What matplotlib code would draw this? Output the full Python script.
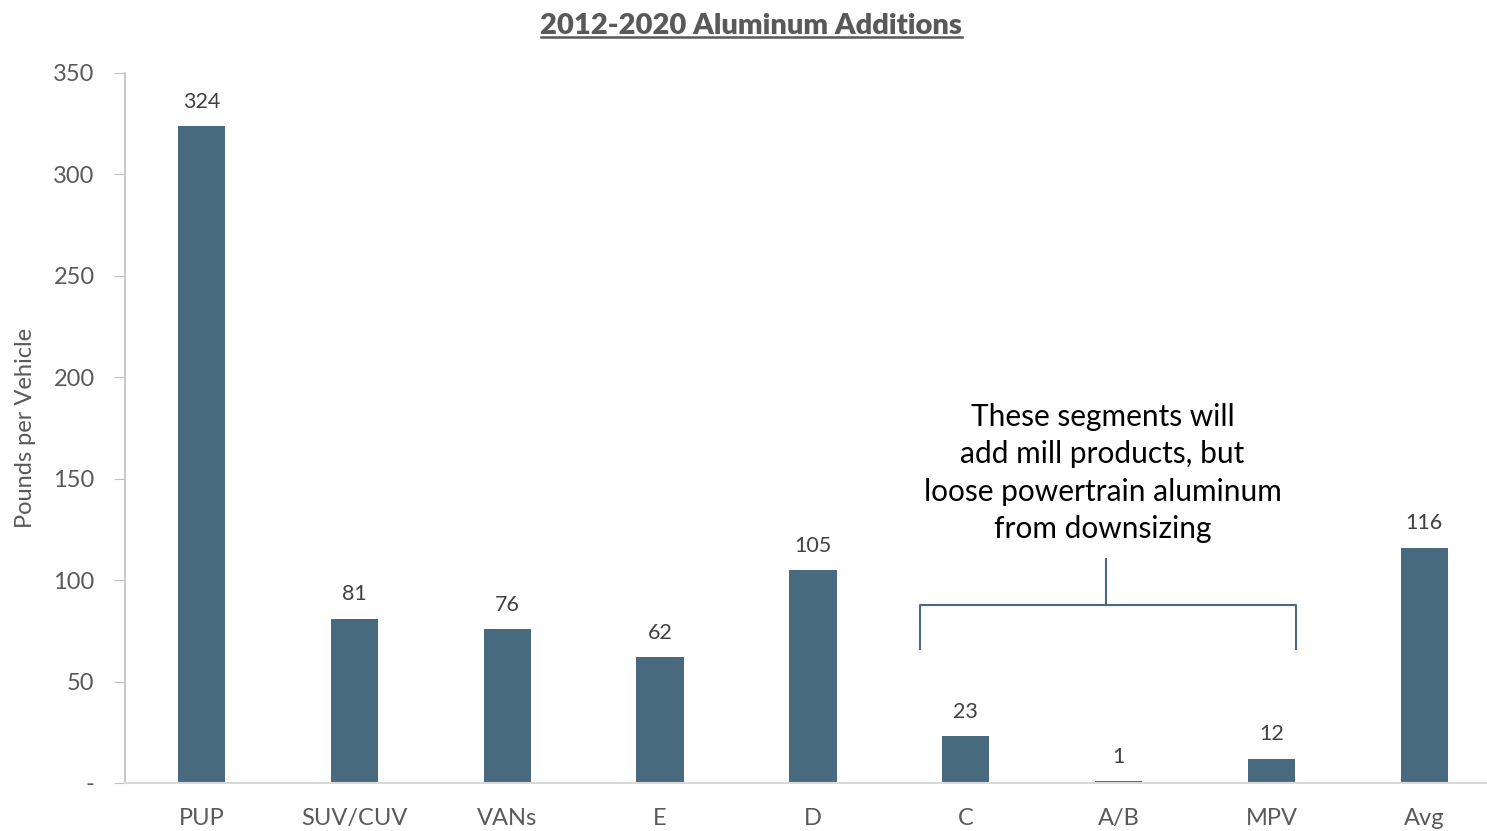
import matplotlib.pyplot as plt
import numpy as np

plt.rcParams['font.family'] = ['Lato', 'DejaVu Sans']

# 数据
categories = ['PUP', 'SUV/CUV', 'VANs', 'E', 'D', 'C', 'A/B', 'MPV', 'Avg']
pounds = [324, 81, 76, 62, 105, 23, 1, 12, 116]
yticks = [0, 50, 100, 150, 200, 250, 300, 350]
ytick_labels = ['-', '50', '100', '150', '200', '250', '300', '350']
note = 'These segments will\nadd mill products, but\nloose powertrain aluminum\nfrom downsizing'

bar_color = '#486A7E'
grey = '#595959'

fig = plt.figure(figsize=(14.87, 8.31), dpi=100)
ax = fig.add_axes([0.0841, 0.0578, 0.9159, 0.8544])

x = np.arange(len(categories))
bars = ax.bar(x, pounds, width=0.31, color=bar_color)

# 柱顶数字
for xi, v in zip(x, pounds):
    ax.text(xi, v + 7, str(v), ha='center', va='bottom', fontsize=15.5, color='#404040')

ax.set_xlim(-0.5, 8.41)
ax.set_ylim(0, 350)
ax.set_xticks(x)
ax.set_xticklabels(categories, fontsize=17, color=grey)
ax.set_yticks(yticks)
ax.set_yticklabels(ytick_labels, fontsize=17, color=grey)
ax.tick_params(axis='x', length=0, pad=18)
ax.tick_params(axis='y', length=8, color='#BFBFBF', pad=14)

ax.spines['right'].set_visible(False)
ax.spines['top'].set_visible(False)
ax.spines['left'].set_color('#BFBFBF')
ax.spines['bottom'].set_color('#D9D9D9')
ax.spines['left'].set_linewidth(1.2)
ax.spines['bottom'].set_linewidth(1.5)

ax.set_ylabel('Pounds per Vehicle', fontsize=17, color=grey, labelpad=12)

# 标题(带下划线)
fig.text(0.505, 0.969, '2012-2020 Aluminum Additions', ha='center', va='center',
         fontsize=21, fontweight='heavy', color=grey)
fig.add_artist(plt.Line2D([0.364, 0.647], [0.955, 0.955], color=grey, lw=1.8))

# 括号
bc = '#486A7E'
ax.plot([4.70, 4.70, 7.16, 7.16], [66, 87.7, 87.7, 66], color=bc, lw=1.5)
ax.plot([5.92, 5.92], [87.7, 110.5], color=bc, lw=1.5)
ax.text(5.895, 152.8, note, ha='center', va='center', fontsize=21.5, color='black',
        linespacing=1.4)

fig.savefig('out.png', dpi=100)
